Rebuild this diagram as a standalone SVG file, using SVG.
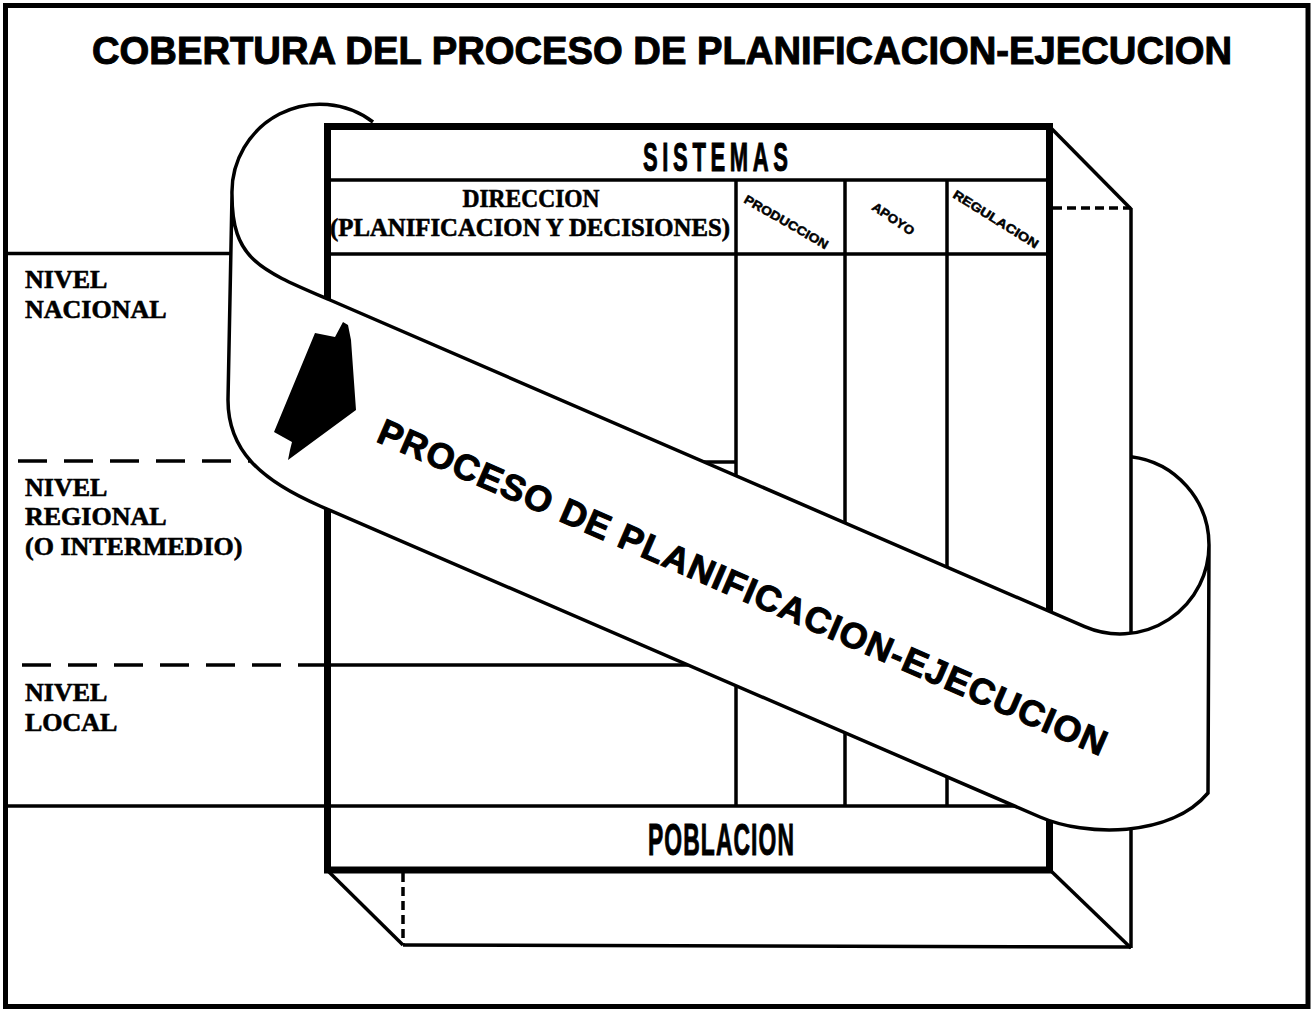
<svg xmlns="http://www.w3.org/2000/svg" width="1313" height="1010" viewBox="0 0 1313 1010">
<style>
.ln{stroke:#000;stroke-width:3.5;fill:none;stroke-linecap:butt}
.dash{stroke:#000;stroke-width:3.5;fill:none;stroke-dasharray:29 17}
.sdash{stroke:#000;stroke-width:3.5;fill:none;stroke-dasharray:9 5}
.serif{font-family:"Liberation Serif","Times New Roman",serif;font-weight:bold;fill:#000;stroke:#000;stroke-width:0.6}
.sans{font-family:"Liberation Sans",Arial,sans-serif;font-weight:bold;fill:#000}
.heavy{stroke:#000;stroke-width:1}
</style>
<rect x="0" y="0" width="1313" height="1010" fill="#fff"/>
<rect id="border" x="5.5" y="5.5" width="1302.5" height="1001" fill="none" stroke="#000" stroke-width="5"/>
<g id="title">
<text class="sans heavy" x="662" y="64" text-anchor="middle" font-size="39" textLength="1140" lengthAdjust="spacingAndGlyphs">COBERTURA DEL PROCESO DE PLANIFICACION-EJECUCION</text>
</g>
<g id="levels">
<line class="ln" x1="5" y1="253.5" x2="327" y2="253.5"/>
<line class="dash" x1="18" y1="461" x2="250" y2="461"/>
<line class="dash" x1="22" y1="665" x2="327" y2="665"/>
<line class="ln" x1="5" y1="806" x2="1050" y2="806"/>
<text class="serif" font-size="26" x="25" y="288">NIVEL</text>
<text class="serif" font-size="26" x="25" y="318">NACIONAL</text>
<text class="serif" font-size="26" x="25" y="496">NIVEL</text>
<text class="serif" font-size="26" x="25" y="525">REGIONAL</text>
<text class="serif" font-size="26" x="25" y="555">(O INTERMEDIO)</text>
<text class="serif" font-size="26" x="25" y="701">NIVEL</text>
<text class="serif" font-size="26" x="25" y="731">LOCAL</text>
</g>
<g id="ribbon-back">
<path d="M373,122 A88,88 0 0,0 232,195 C232,260 260,270 330,300 L327,300 L327,126 Z" fill="#fff"/>
<path class="ln" d="M373,122 A88,88 0 0,0 232,195"/>
<path d="M1131,456.7 A89,89 0 0,1 1209,545 A89,89 0 0,1 1131,633.3 Z" fill="#fff"/>
<path class="ln" d="M1131,456.7 A89,89 0 0,1 1209,545"/>
</g>
<g id="cube">
<line class="ln" x1="1050" y1="127" x2="1131" y2="209"/>
<line class="ln" x1="1131" y1="208" x2="1131" y2="948"/>
<line class="ln" x1="1050" y1="870" x2="1131" y2="948"/>
<line class="ln" x1="327" y1="870" x2="403" y2="945"/>
<line class="ln" x1="403" y1="945" x2="1131" y2="947"/>
<line class="sdash" x1="1053" y1="208" x2="1131" y2="208"/>
<line class="sdash" x1="403" y1="873" x2="403" y2="945"/>
</g>
<g id="systems">
<line class="ln" x1="327" y1="180" x2="1050" y2="180"/>
<line class="ln" x1="327" y1="254" x2="1050" y2="254"/>
<line class="ln" x1="736" y1="180" x2="736" y2="806"/>
<line class="ln" x1="845" y1="180" x2="845" y2="806"/>
<line class="ln" x1="947" y1="180" x2="947" y2="806"/>
<line class="ln" x1="327" y1="462" x2="736" y2="462"/>
<line class="ln" x1="327" y1="665" x2="736" y2="665"/>
<text class="sans heavy" transform="scale(0.55,1)" x="1300.9" y="171" text-anchor="middle" font-size="40" textLength="263.6" lengthAdjust="spacing">SISTEMAS</text>
<text class="serif" x="531" y="207" text-anchor="middle" font-size="25" textLength="137" lengthAdjust="spacingAndGlyphs">DIRECCION</text>
<text class="serif" x="530" y="236" text-anchor="middle" font-size="25" textLength="400" lengthAdjust="spacingAndGlyphs">(PLANIFICACION Y DECISIONES)</text>
<text class="sans" font-size="12.5" stroke="#000" stroke-width="0.5" transform="translate(743,202) rotate(30)" textLength="95" lengthAdjust="spacingAndGlyphs">PRODUCCION</text>
<text class="sans" font-size="12.5" stroke="#000" stroke-width="0.5" transform="translate(871,209) rotate(34)" textLength="48" lengthAdjust="spacingAndGlyphs">APOYO</text>
<text class="sans" font-size="12.5" stroke="#000" stroke-width="0.5" transform="translate(952,197) rotate(32)" textLength="98" lengthAdjust="spacingAndGlyphs">REGULACION</text>
<text class="sans heavy" transform="scale(0.52,1)" x="1386.5" y="855" text-anchor="middle" font-size="44" textLength="280.8" lengthAdjust="spacing">POBLACION</text>
<rect x="327.5" y="126.5" width="722" height="743.5" fill="none" stroke="#000" stroke-width="7"/>
</g>
<g id="ribbon">
<path class="ln" d="M232,195 C232,260 260,270 330,300 L1084.7,626.7 A89,89 0 0,0 1209,545 L1208,793 C1170,838 1085,836.6 1040,817 L320,506 C260,480 228,450 228,400 Z" style="fill:#fff"/>
<polygon points="315,333 335,337 343,322 348,325 351,340 356,410 288,460 290,450 292,442 274,432" fill="#000"/>
<text class="sans heavy" font-size="36" transform="translate(375,441) rotate(23.5)" textLength="791" lengthAdjust="spacing">PROCESO DE PLANIFICACION-EJECUCION</text>
</g>
<g id="connectors"></g>
</svg>
